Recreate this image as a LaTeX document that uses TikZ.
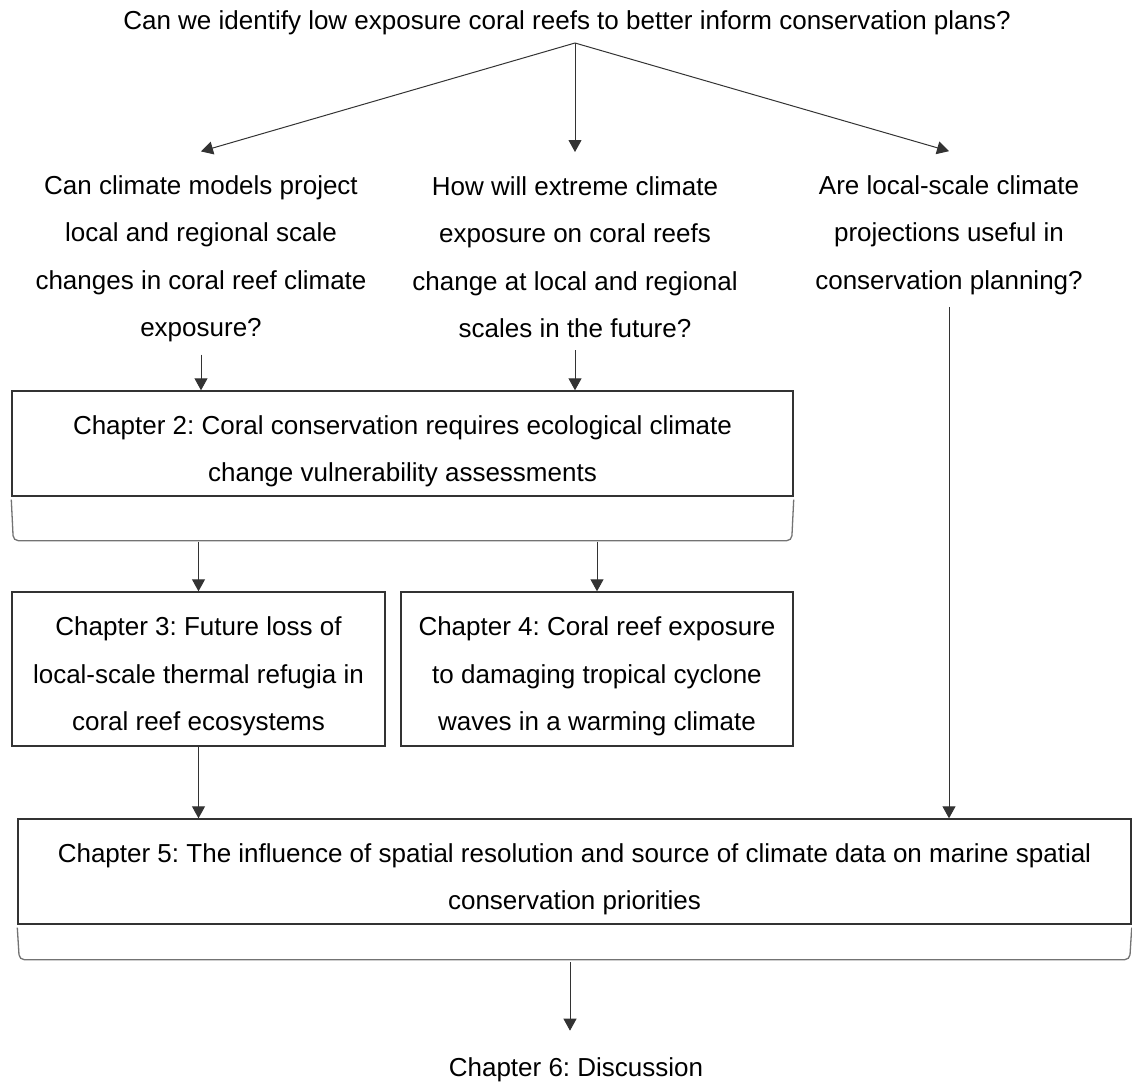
\documentclass[tikz,border=0pt]{standalone}
\usepackage{fontspec}
\setmainfont{Liberation Sans}
\usepackage{tikz}
\usetikzlibrary{ arrows.meta, calc, positioning }
\newcommand{\boxstrut}{\rule{0pt}{34pt}} % pushes box text a little down
\tikzset{
>={Triangle[width=13pt,length=12pt]}, % filled arrow heads
every node/.style={inner sep=1pt},
txt/.style={align=center, font=\fontsize{26}{47.5}\selectfont\frenchspacing}, % question text
question/.style={txt, inner ysep=24pt},
chapbox/.style={txt, draw=black!80, line width=1.4pt, inner sep=0pt},
bracketline/.style={draw=black!55, line width=1.3pt, rounded corners=5pt},
link/.style={->, black!80, line width=1pt},
}

\begin{document}
\begin{tikzpicture}[x=1pt,y=-1pt]
  \useasboundingbox (0,0) rectangle (1132,1084);

  \node[txt] (goal) at (567,23) {Can we identify low exposure coral reefs to better inform conservation plans?};
  \coordinate (split) at (575,43);

  \node[question] (q1) at (201,259) {Can climate models project\\local and regional scale\\changes in coral reef climate\\exposure?};
  \node[question] (q2) at (575,257) {How will extreme climate\\exposure on coral reefs\\change at local and regional\\scales in the future?};
  \node[question] (q3) at (949,235) {Are local-scale climate\\projections useful in\\conservation planning?};

  \node[chapbox, minimum width=781pt, minimum height=105pt] (ch2) at (402.5,443.5)
    {\boxstrut Chapter 2: Coral conservation requires ecological climate\\change vulnerability assessments};
  \node[chapbox, minimum width=373pt, minimum height=154pt] (ch3) at (198.5,669)
    {\boxstrut Chapter 3: Future loss of\\local-scale thermal refugia in\\coral reef ecosystems};
  \node[chapbox, minimum width=392pt, minimum height=154pt] (ch4) at (597,669)
    {\boxstrut Chapter 4: Coral reef exposure\\to damaging tropical cyclone\\waves in a warming climate};
  \node[chapbox, minimum width=1113pt, minimum height=105pt] (ch5) at (574.5,871.5)
    {\boxstrut Chapter 5: The influence of spatial resolution and source of climate data on marine spatial\\conservation priorities};
  \node[txt, inner ysep=27pt] (ch6) at (576,1070) {Chapter 6: Discussion};

  % brackets under chapters 2 and 5
  \draw[bracketline] ($(ch2.south west)+(0,3)$) -- ($(ch2.south west)+(2,44)$)
    -- ($(ch2.south east)+(-2,44)$) -- ($(ch2.south east)+(0,3)$);
  \coordinate (br2) at ($(ch2.south)+(0,45)$);
  \draw[bracketline] ($(ch5.south west)+(0,3)$) -- ($(ch5.south west)+(2,35)$)
    -- ($(ch5.south east)+(-2,35)$) -- ($(ch5.south east)+(0,3)$);
  \coordinate (br5) at (570,962);

  \path[link]
  (split) edge (q1.north)
  (split) edge (q2.north)
  (split) edge (q3.north)
  ([yshift=12pt]q1.south) edge (q1.south |- ch2.north)
  ([yshift=12pt]q2.south) edge (q2.south |- ch2.north)
  (ch3.north |- br2) edge (ch3.north)
  (ch4.north |- br2) edge (ch4.north)
  (ch3.south) edge (ch3.south |- ch5.north)
  ([yshift=12pt]q3.south) edge (q3.south |- ch5.north)
  (br5) edge (br5 |- ch6.north);
\end{tikzpicture}
\end{document}
